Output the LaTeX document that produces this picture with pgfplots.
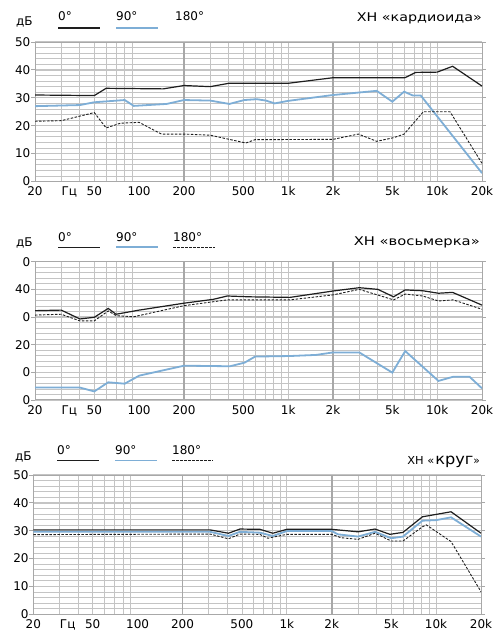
\documentclass[border=0pt]{standalone}
\usepackage{fontspec}
\setmainfont{DejaVu Sans}
\usepackage{pgfplots}
\pgfplotsset{compat=1.18}

\definecolor{curveblue}{RGB}{126,174,214}
\definecolor{gridgray}{RGB}{196,196,196}
\definecolor{framegray}{RGB}{168,168,168}
\definecolor{inkblack}{RGB}{30,30,30}

\newcommand{\lgd}{\fontsize{12}{14}\selectfont}
\newcommand{\tkf}{\fontsize{12}{14}\selectfont}

\begin{document}
\begin{tikzpicture}
\useasboundingbox (0pt,0pt) rectangle (502pt,633pt);

% ---- cardioid
\begin{axis}[at={(35pt,451.5pt)}, anchor=south west, scale only axis, width=447pt, height=139.5pt,
  xmode=log, xmin=20, xmax=20000, ymin=0, ymax=50,
  axis line style={framegray, line width=1pt},
  xtick={20,34,50,100,200,500,1000,2000,5000,10000,20000},
  xticklabels={20,Гц,50,100,200,500,1k,2k,5k,10k,20k},
  minor xtick={30,40,50,60,70,80,90,300,400,500,600,700,800,900,1000,3000,4000,5000,6000,7000,8000,9000,10000},
  xminorgrids, ymajorgrids, yminorgrids,
  ytick={0,10,20,30,40,50}, yticklabels={0,10,20,30,40,50},
  minor ytick={2,4,...,48},
  minor grid style={gridgray, line width=0.8pt},
  major grid style={gridgray, line width=1.3pt},
  tick align=outside, major tick length=4pt, minor tick length=0pt,
  xtick style={draw=none}, ytick style={draw=framegray, line width=0.9pt},
  xticklabel style={font=\tkf, anchor=base, yshift=-10.5pt},
  yticklabel style={font=\tkf, inner sep=0.5pt}]
\draw[framegray, line width=1.6pt] (axis cs:200,0) -- (axis cs:200,50) (axis cs:2000,0) -- (axis cs:2000,50);
\addplot[curveblue, line width=1.8pt] coordinates {(20,27.0)(40,27.4)(50,28.4)(80,29.2)(92,27.1)(153,27.8)(200,29.2)(300,29.0)(403,27.8)(508,29.2)(615,29.5)(710,29.0)(812,28.0)(1000,28.9)(2000,31.0)(3930,32.5)(5000,28.6)(6000,32.2)(6880,30.8)(7770,30.8)(20000,3.0)};
\addplot[inkblack, line width=0.9pt, dash pattern=on 2.5pt off 1.5pt] coordinates {(20,21.6)(30,21.8)(50,24.7)(60,19.2)(75,20.9)(100,21.2)(141,17.0)(200,17.0)(300,16.6)(520,13.8)(600,15.0)(2000,15.1)(2960,17.0)(3930,14.4)(5100,15.7)(6000,17.0)(8080,25.0)(12200,25.0)(20000,6.5)};
\addplot[inkblack, line width=1.2pt] coordinates {(20,31.0)(50,30.8)(60,33.4)(145,33.2)(200,34.4)(300,34.0)(400,35.2)(1000,35.2)(2000,37.2)(6080,37.2)(7180,39.1)(10000,39.2)(12700,41.3)(20000,34.2)};
\end{axis}
\node[anchor=base west, font=\lgd, inner sep=0] at (16pt,607pt) {дБ};
\node[anchor=base west, font=\lgd, inner sep=0] at (58pt,612.5pt) {0°};
\node[anchor=base west, font=\lgd, inner sep=0] at (116pt,612.5pt) {90°};
\node[anchor=base west, font=\lgd, inner sep=0] at (175pt,612.5pt) {180°};
\draw[inkblack, line width=1.2pt] (58pt,605pt) -- (100pt,605pt);
\draw[curveblue, line width=1.6pt] (116pt,605pt) -- (158pt,605pt);
\node[anchor=base east, font=\lgd, inner sep=0] at (482pt,611.5pt) {\resizebox{125pt}{\height}{ХН «кардиоида»}};

% ---- figure eight
\begin{axis}[at={(35pt,233pt)}, anchor=south west, scale only axis, width=447pt, height=138.3pt,
  xmode=log, xmin=20, xmax=20000, ymin=0, ymax=50,
  axis line style={framegray, line width=1pt},
  xtick={20,34,50,100,200,500,1000,2000,5000,10000,20000},
  xticklabels={20,Гц,50,100,200,500,1k,2k,5k,10k,20k},
  minor xtick={30,40,50,60,70,80,90,300,400,500,600,700,800,900,1000,3000,4000,5000,6000,7000,8000,9000,10000},
  xminorgrids, ymajorgrids, yminorgrids,
  ytick={0,10,20,30,40,50}, yticklabels={0,0,20,0,40,0},
  minor ytick={2,4,...,48},
  minor grid style={gridgray, line width=0.8pt},
  major grid style={gridgray, line width=1.3pt},
  tick align=outside, major tick length=4pt, minor tick length=0pt,
  xtick style={draw=none}, ytick style={draw=framegray, line width=0.9pt},
  xticklabel style={font=\tkf, anchor=base, yshift=-10.5pt},
  yticklabel style={font=\tkf, inner sep=0.5pt}]
\draw[framegray, line width=1.6pt] (axis cs:200,0) -- (axis cs:200,50) (axis cs:2000,0) -- (axis cs:2000,50);
\addplot[curveblue, line width=1.8pt] coordinates {(20,4.5)(40,4.5)(50,3.1)(62,6.4)(80,5.9)(100,8.8)(200,12.4)(407,12.2)(510,13.5)(600,15.7)(1030,15.9)(1540,16.3)(2000,17.2)(3000,17.2)(5000,9.9)(6100,17.7)(10200,6.9)(12800,8.4)(16500,8.4)(20000,4.2)};
\addplot[inkblack, line width=0.9pt, dash pattern=on 2.5pt off 1.5pt] coordinates {(20,30.7)(30,31.0)(40,28.6)(50,28.6)(62,32.2)(70,30.5)(92,30.1)(200,34.1)(390,36.2)(1030,36.2)(2000,38.0)(3000,40.0)(5100,36.2)(6100,38.3)(8000,37.6)(10200,35.8)(12800,36.2)(20000,32.8)};
\addplot[inkblack, line width=1.2pt] coordinates {(20,32.3)(30,32.5)(40,29.3)(50,29.9)(62,33.1)(70,31.0)(100,32.5)(200,35.0)(315,36.4)(390,37.6)(555,37.3)(1030,37.1)(2000,39.4)(3000,40.6)(4000,40.0)(5100,37.3)(6100,39.8)(8000,39.5)(10200,38.6)(12700,38.9)(20000,34.3)};
\end{axis}
\node[anchor=base west, font=\lgd, inner sep=0] at (16pt,386pt) {дБ};
\node[anchor=base west, font=\lgd, inner sep=0] at (58pt,391.5pt) {0°};
\node[anchor=base west, font=\lgd, inner sep=0] at (116pt,391.5pt) {90°};
\node[anchor=base west, font=\lgd, inner sep=0] at (173pt,391.5pt) {180°};
\draw[inkblack, line width=1.2pt] (58pt,385.7pt) -- (100pt,385.7pt);
\draw[curveblue, line width=1.6pt] (116pt,385.7pt) -- (158pt,385.7pt);
\draw[inkblack, line width=0.9pt, dash pattern=on 2.5pt off 1.5pt] (173pt,385.7pt) -- (215pt,385.7pt);
\node[anchor=base east, font=\lgd, inner sep=0] at (480pt,387pt) {\resizebox{126pt}{\height}{ХН «восьмерка»}};

% ---- omni
\begin{axis}[at={(33.3pt,18.7pt)}, anchor=south west, scale only axis, width=447.7pt, height=139.3pt,
  xmode=log, xmin=20, xmax=20000, ymin=0, ymax=50,
  axis line style={framegray, line width=1pt},
  xtick={20,34,50,100,200,500,1000,2000,5000,10000,20000},
  xticklabels={20,Гц,50,100,200,500,1k,2k,5k,10k,20k},
  minor xtick={30,40,50,60,70,80,90,300,400,500,600,700,800,900,1000,3000,4000,5000,6000,7000,8000,9000,10000},
  xminorgrids, ymajorgrids, yminorgrids,
  ytick={0,10,20,30,40,50}, yticklabels={0,10,20,30,40,50},
  minor ytick={2,4,...,48},
  minor grid style={gridgray, line width=0.8pt},
  major grid style={gridgray, line width=1.3pt},
  tick align=outside, major tick length=4pt, minor tick length=0pt,
  xtick style={draw=none}, ytick style={draw=framegray, line width=0.9pt},
  xticklabel style={font=\tkf, anchor=base, yshift=-10.5pt},
  yticklabel style={font=\tkf, inner sep=0.5pt}]
\draw[framegray, line width=1.6pt] (axis cs:200,0) -- (axis cs:200,50) (axis cs:2000,0) -- (axis cs:2000,50);
\addplot[curveblue, line width=1.8pt] coordinates {(20,29.6)(306,29.6)(406,28.1)(485,29.6)(660,29.3)(806,28.1)(1000,29.9)(2000,29.9)(2200,28.7)(3000,27.9)(3900,29.6)(5000,27.3)(6000,27.9)(8100,33.6)(10000,33.8)(12600,34.8)(20000,27.9)};
\addplot[inkblack, line width=0.9pt, dash pattern=on 2.5pt off 1.5pt] coordinates {(20,28.6)(306,28.8)(406,27.1)(485,28.8)(660,28.7)(745,27.3)(1000,28.7)(2000,28.7)(2300,27.5)(3000,26.9)(3900,29.1)(5000,26.3)(6000,26.3)(8100,31.4)(8600,32.1)(12600,26.1)(20000,8.1)};
\addplot[inkblack, line width=1.2pt] coordinates {(20,30.3)(306,30.3)(406,29.1)(485,30.6)(660,30.5)(806,29.1)(1000,30.5)(2000,30.5)(3000,29.6)(3900,30.6)(4900,28.7)(6000,29.4)(8100,35.0)(12600,36.8)(20000,29.1)};
\end{axis}
\node[anchor=base west, font=\lgd, inner sep=0] at (15pt,172pt) {дБ};
\node[anchor=base west, font=\lgd, inner sep=0] at (57pt,178pt) {0°};
\node[anchor=base west, font=\lgd, inner sep=0] at (115pt,178pt) {90°};
\node[anchor=base west, font=\lgd, inner sep=0] at (172pt,178pt) {180°};
\draw[inkblack, line width=1.2pt] (57pt,172.3pt) -- (99pt,172.3pt);
\draw[curveblue, line width=1.6pt] (115pt,172.3pt) -- (157pt,172.3pt);
\draw[inkblack, line width=0.9pt, dash pattern=on 2.5pt off 1.5pt] (172pt,172.3pt) -- (213pt,172.3pt);
\node[anchor=base east, inner sep=0] at (480pt,168pt) {\fontsize{11}{13}\selectfont\resizebox{27pt}{\height}{ХН «}\hspace{1pt}\resizebox{38pt}{\height}{\fontsize{15}{15}\selectfont круг}\resizebox{6.5pt}{\height}{»}};
\end{tikzpicture}
\end{document}
